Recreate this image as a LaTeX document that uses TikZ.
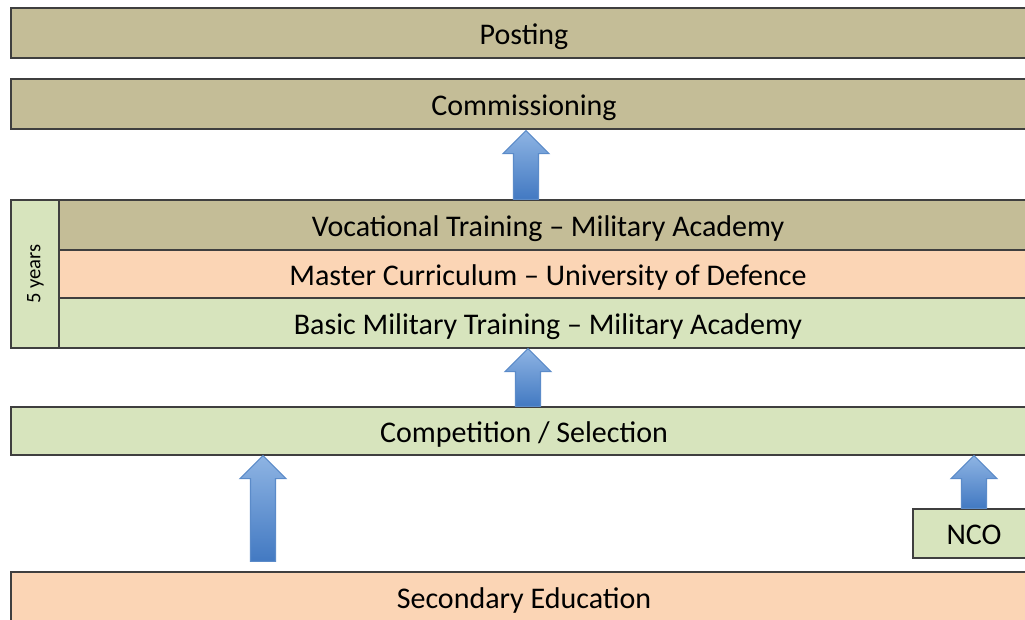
\documentclass[tikz,border=0pt]{standalone}
\usepackage{fontspec}
\setmainfont{Carlito}
\usetikzlibrary{calc}

\definecolor{tanbar}{HTML}{C4BD97}
\definecolor{peachbar}{HTML}{FBD5B5}
\definecolor{greenbar}{HTML}{D7E4BD}
\definecolor{barline}{HTML}{3F3F3F}
\definecolor{arrowtop}{HTML}{8EB4E3}
\definecolor{arrowbot}{HTML}{4279C2}
\definecolor{arrowline}{HTML}{5B8BC9}

\tikzset{every picture/.style={line width=0.75pt}}
\tikzset{
	bar/.style={draw=barline, line width=1pt, fill=#1, inner sep=0pt,
		minimum width=1026*0.75pt, minimum height=50*0.75pt,
		text height=18pt, text depth=1pt,
		font=\fontsize{22.5}{26}\selectfont},
	bigarrow/.style={draw=arrowline, line width=0.8pt, top color=arrowtop, bottom color=arrowbot}
}

% block arrow: #1 tip, #2 tail
\newcommand\uparrowbig[2]{%
	\path[bigarrow] ($(#2)+(-12.5,0)$) -- ($(#1)+(-12.5,23)$) -- ($(#1)+(-23,23)$) -- (#1)
	-- ($(#1)+(23,23)$) -- ($(#1)+(12.5,23)$) -- ($(#2)+(12.5,0)$) -- cycle;}

\begin{document}
\begin{tikzpicture}[x=0.75pt,y=-0.75pt]
	\useasboundingbox (0,0) rectangle (1025,619);
	\clip (0,0) rectangle (1025,619);
	
	%Bars
	\node[bar=tanbar] (post) at (524,33) {Posting};
	\node[bar=tanbar] (comm) at (524,104) {Commissioning};
	
	%Five years block
	\node[bar=greenbar, rotate=90, minimum width=148*0.75pt, minimum height=48*0.75pt,
		text height=11pt, text depth=3pt,
		font=\fontsize{15.5}{18}\selectfont] (years) at (35,274) {5 years};
	\node[bar=tanbar, minimum width=978*0.75pt] (voc) at (548,225) {Vocational Training -- Military Academy};
	\node[bar=peachbar, minimum width=978*0.75pt, minimum height=48*0.75pt] (mast) at (548,274) {Master Curriculum -- University of Defence};
	\node[bar=greenbar, minimum width=978*0.75pt] (basic) at (548,323) {Basic Military Training -- Military Academy};
	
	\node[bar=greenbar, minimum height=48*0.75pt] (comp) at (524,431) {Competition / Selection};
	\node[bar=greenbar, minimum width=122*0.75pt, minimum height=49*0.75pt] (nco) at (974,533.5) {NCO};
	\node[bar=peachbar] (sec) at (524,597) {Secondary Education};
	
	%Arrows
	\path ($(comm.south)+(2,1)$) coordinate (commup);
	\path ($(comp.north)+(4,0)$) coordinate (compfoot);
	\path (compfoot |- basic.south) coordinate (basicup);
	\path ($(comp.south)+(-261,0)$) coordinate (secup);
	\path (comp.south -| nco.north) coordinate (ncoup);
	\uparrowbig{commup}{commup |- voc.north}
	\uparrowbig{basicup}{compfoot}
	\uparrowbig{secup}{$(secup |- sec.north)+(0,-10)$}
	\uparrowbig{ncoup}{nco.north}
	
\end{tikzpicture}
\end{document}
